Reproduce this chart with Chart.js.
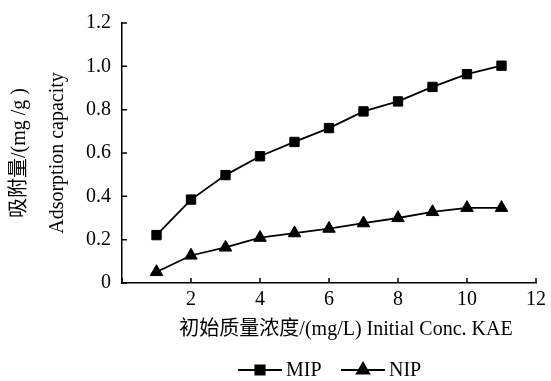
<!DOCTYPE html>
<html>
<head>
<meta charset="utf-8">
<script src="https://cdn.jsdelivr.net/npm/chart.js@4"></script>
<style>
    html, body { margin: 0; padding: 0; background: #fff; }
    #wrap { width: 551px; height: 381px; }
</style>
</head>
<body>
<div id="wrap"><canvas id="chart" width="551" height="381"></canvas></div>
<script>
    const concentrations = [1, 2, 3, 4, 5, 6, 7, 8, 9, 10, 11];
    const mipValues = [0.221, 0.385, 0.498, 0.585, 0.651, 0.715, 0.792, 0.838, 0.905, 0.964, 1.003];
    const nipValues = [0.051, 0.127, 0.164, 0.209, 0.23, 0.251, 0.276, 0.3, 0.328, 0.347, 0.347];
    const seriesNames = ['MIP', 'NIP'];
    const xTitle = '初始质量浓度/(mg/L) Initial Conc. KAE';
    const yTitle = ['吸附量/(mg /g )', 'Adsorption capacity'];

    const FONT = '"Liberation Serif", "Times New Roman", "Noto Sans CJK SC", serif';
    const FS = 20;

    // inward tick marks on both axes
    const innerTicks = {
        id: 'innerTicks',
        afterDraw(chart) {
            const ctx = chart.ctx;
            const xs = chart.scales.x, ys = chart.scales.y;
            ctx.save();
            ctx.strokeStyle = '#000';
            ctx.lineWidth = 1.5;
            ctx.beginPath();
            xs.ticks.forEach(t => {
                const px = xs.getPixelForValue(t.value);
                ctx.moveTo(px, xs.top);
                ctx.lineTo(px, xs.top - 5);
            });
            ys.ticks.forEach(t => {
                const py = ys.getPixelForValue(t.value);
                ctx.moveTo(ys.right, py);
                ctx.lineTo(ys.right + 5, py);
            });
            ctx.stroke();
            ctx.restore();
        }
    };

    // x title (sits a bit right of the plot centre) and line+marker legend
    const bottomText = {
        id: 'bottomText',
        afterDraw(chart) {
            const ctx = chart.ctx;
            ctx.save();
            ctx.font = FS + 'px ' + FONT;
            ctx.textBaseline = 'middle';
            ctx.fillStyle = '#000';
            ctx.textAlign = 'center';
            ctx.fillText(xTitle, 346, 330);
            ctx.textAlign = 'left';

            const y = 370;
            const items = [{ x: 238 }, { x: 341 }];
            items.forEach((it, i) => {
                const ds = chart.data.datasets[i];
                ctx.strokeStyle = '#000';
                ctx.lineWidth = 1.8;
                ctx.beginPath();
                ctx.moveTo(it.x, y);
                ctx.lineTo(it.x + 44, y);
                ctx.stroke();
                Chart.helpers.drawPoint(ctx, {
                    pointStyle: ds.pointStyle,
                    radius: ds.pointRadius,
                    rotation: 0,
                    borderWidth: 1
                }, it.x + 22, y);
                ctx.fill();
                ctx.fillText(seriesNames[i], it.x + 48, y + 1);
            });
            ctx.restore();
        }
    };

    Chart.defaults.font.family = FONT;
    Chart.defaults.font.size = FS;
    Chart.defaults.color = '#000';

    new Chart(document.getElementById('chart').getContext('2d'), {
        type: 'line',
        data: {
            datasets: [
                {
                    label: seriesNames[0],
                    data: concentrations.map((c, i) => ({ x: c, y: mipValues[i] })),
                    borderColor: '#000',
                    backgroundColor: '#000',
                    borderWidth: 1.8,
                    pointStyle: 'rect',
                    pointRadius: 6.6,
                    pointBorderWidth: 1,
                    tension: 0
                },
                {
                    label: seriesNames[1],
                    data: concentrations.map((c, i) => ({ x: c, y: nipValues[i] })),
                    borderColor: '#000',
                    backgroundColor: '#000',
                    borderWidth: 1.8,
                    pointStyle: 'triangle',
                    pointRadius: 7.2,
                    pointBorderWidth: 1,
                    tension: 0
                }
            ]
        },
        options: {
            responsive: false,
            animation: false,
            layout: { padding: { left: 0, right: 10, top: 18, bottom: 38 } },
            plugins: {
                legend: { display: false },
                tooltip: { enabled: false }
            },
            scales: {
                x: {
                    type: 'linear',
                    min: 0,
                    max: 12,
                    afterFit: s => { s.height = 60; },
                    grid: { display: false, drawTicks: false },
                    border: { display: true, color: '#000', width: 1.5 },
                    ticks: { stepSize: 2, padding: 5, font: { size: FS }, callback: v => v === 0 ? '' : String(v) }
                },
                y: {
                    min: 0,
                    max: 1.2,
                    afterFit: s => { s.width = 122; },
                    grid: { display: false, drawTicks: false },
                    border: { display: true, color: '#000', width: 1.5 },
                    ticks: { stepSize: 0.2, padding: 11, font: { size: FS }, callback: v => v === 0 ? '0' : v.toFixed(1) },
                    title: { display: true, text: yTitle, font: { size: FS, lineHeight: 1.9 }, padding: { top: 1, bottom: 0 } }
                }
            }
        },
        plugins: [innerTicks, bottomText]
    });
</script>
</body>
</html>
